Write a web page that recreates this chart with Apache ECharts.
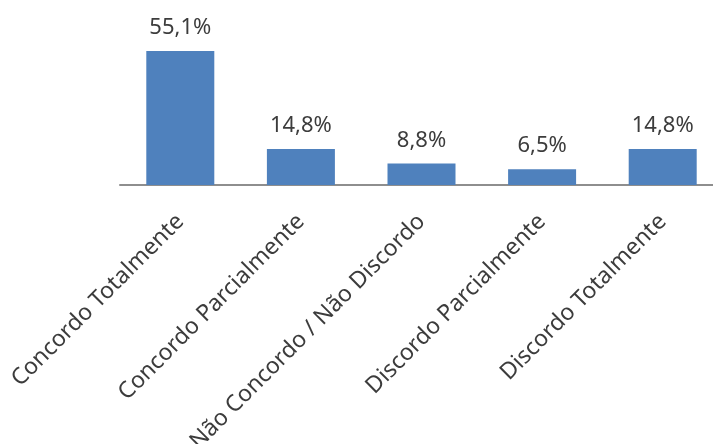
<!DOCTYPE html>
<html>
<head>
<meta charset="utf-8">
<script src="https://cdn.jsdelivr.net/npm/echarts@6/dist/echarts.min.js"></script>
<style>
  html, body { margin: 0; padding: 0; background: #ffffff; }
  #chart { width: 713px; height: 444px; }
</style>
</head>
<body>
<div id="chart"></div>
<script>
// Survey answers and their shares (%)
const categories = [
  'Concordo Totalmente',
  'Concordo Parcialmente',
  'Não Concordo / Não Discordo',
  'Discordo Parcialmente',
  'Discordo Totalmente'
];
const shares = [55.1, 14.8, 8.8, 6.5, 14.8];

const chart = echarts.init(document.getElementById('chart'), null, { renderer: 'canvas' });

const textColor = '#3c3c3c';
const fontFamily = '"Noto Sans", "Open Sans", sans-serif';

chart.setOption({
  animation: false,
  backgroundColor: '#ffffff',
  // the plot runs a little past the right edge of the page
  grid: { left: 120, width: 603, top: 39, height: 146, outerBoundsMode: 'none', containLabel: false },
  xAxis: {
    type: 'category',
    data: categories,
    axisLine: { show: true, lineStyle: { color: '#8e8e8e', width: 2 } },
    axisTick: { show: false },
    axisLabel: {
      interval: 0,
      rotate: 45,
      margin: 33,
      color: textColor,
      fontFamily: fontFamily,
      fontSize: 23
    }
  },
  yAxis: {
    type: 'value',
    min: 0,
    max: 60,
    show: false,
    splitLine: { show: false }
  },
  series: [{
    type: 'bar',
    data: shares,
    barWidth: 68,
    itemStyle: { color: '#4f81bd' },
    label: {
      show: true,
      position: 'top',
      distance: 12,
      color: textColor,
      fontFamily: fontFamily,
      fontSize: 22,
      formatter: p => p.value.toFixed(1).replace('.', ',') + '%'
    }
  }]
});
</script>
</body>
</html>
